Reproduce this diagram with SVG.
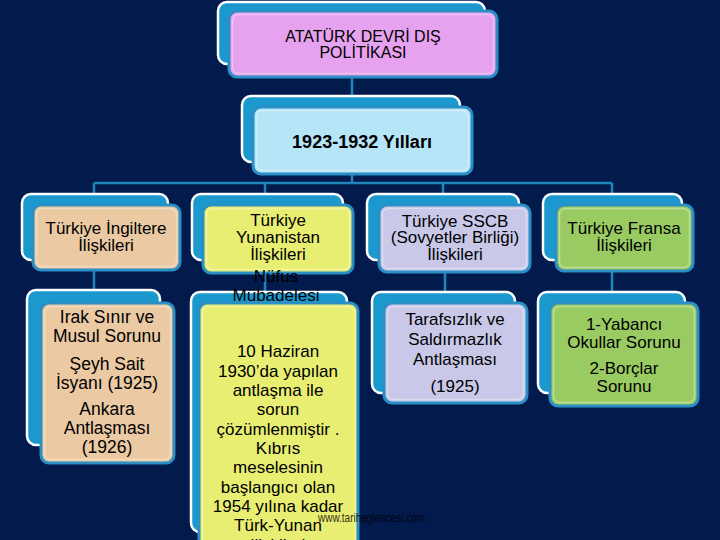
<svg xmlns="http://www.w3.org/2000/svg" width="720" height="540" viewBox="0 0 720 540">
<style>
.back{fill:#1b98cd;stroke:#ffffff;stroke-width:2.5}
.front{stroke:#2a8fc4;stroke-width:3}
.hl{fill:none;stroke:#ffffff;stroke-opacity:0.35;stroke-width:1.5}
.conn{stroke:#1f86bd;stroke-width:2.5;fill:none}
text{font-family:"Liberation Sans",Arial,sans-serif;fill:#000;text-anchor:middle}
.t16{font-size:16px}
.t17{font-size:17px}
.t18{font-size:17.5px}
</style>
<rect width="720" height="540" fill="#021a4c"/>
<g id="connectors">
<path class="conn" d="M352 70V100M352 168V183M94 183H612M94 183V198M265 183V198M443 183V198M612 183V198M94 265V294M265 265V296M445 265V296M612 265V296"/>
</g>
<g id="n-top">
<rect class="back" x="218" y="2" width="267" height="62" rx="9"/>
<rect class="front" x="229" y="11" width="268" height="66" rx="8" fill="#e6a2ee"/>
<rect class="hl" x="232.5" y="14.5" width="261" height="59" rx="6"/>
<text class="t16" fill="#161636" x="363" y="42">ATATÜRK DEVRİ DIŞ</text>
<text class="t16" fill="#161636" x="363" y="58">POLİTİKASI</text>
</g>
<g id="n-years">
<rect class="back" x="242" y="96" width="218" height="66" rx="9"/>
<rect class="front" x="253" y="107" width="219" height="67" rx="8" fill="#b6e5f8"/>
<rect class="hl" x="256.5" y="110.5" width="212" height="60" rx="6"/>
<text x="362" y="148" style="font-size:18px;font-weight:bold" fill="#0c1430">1923-1932 Yılları</text>
</g>
<g id="n-ingiltere">
<rect class="back" x="22" y="194" width="146" height="66" rx="9"/>
<rect class="front" x="33" y="205" width="147" height="65" rx="8" fill="#ebc9a3"/>
<rect class="hl" x="36.5" y="208.5" width="140" height="58" rx="6"/>
<text class="t17" x="106" y="234">Türkiye İngiltere</text>
<text class="t17" x="106" y="251">İlişkileri</text>
</g>
<g id="n-yunanistan">
<rect class="back" x="192" y="194" width="151" height="66" rx="9"/>
<rect class="front" x="203" y="205" width="150" height="68" rx="8" fill="#e8ee72"/>
<rect class="hl" x="206.5" y="208.5" width="143" height="61" rx="6"/>
<text class="t17" x="278" y="226">Türkiye</text>
<text class="t17" x="278" y="243">Yunanistan</text>
<text class="t17" x="278" y="260">İlişkileri</text>
</g>
<g id="n-sscb">
<rect class="back" x="367" y="194" width="152" height="66" rx="9"/>
<rect class="front" x="379" y="205" width="151" height="67" rx="8" fill="#c9c8e9"/>
<rect class="hl" x="382.5" y="208.5" width="144" height="60" rx="6"/>
<text class="t17" x="455" y="227">Türkiye SSCB</text>
<text class="t17" x="455" y="243">(Sovyetler Birliği)</text>
<text class="t17" x="455" y="260">İlişkileri</text>
</g>
<g id="n-fransa">
<rect class="back" x="543" y="194" width="139" height="66" rx="9"/>
<rect class="front" x="556" y="205" width="137" height="66" rx="8" fill="#9acb62"/>
<rect class="hl" x="559.5" y="208.5" width="130" height="59" rx="6"/>
<text class="t17" x="624" y="234">Türkiye Fransa</text>
<text class="t17" x="624" y="251">İlişkileri</text>
</g>
<g id="n-irak">
<rect class="back" x="27" y="290" width="133" height="155" rx="9"/>
<rect class="front" x="41" y="303" width="133" height="160" rx="8" fill="#ebc9a3"/>
<rect class="hl" x="44.5" y="306.5" width="126" height="153" rx="6"/>
<text class="t18" x="107" y="323">Irak Sınır ve</text>
<text class="t18" x="107" y="342">Musul Sorunu</text>
<text class="t18" x="107" y="370">Şeyh Sait</text>
<text class="t18" x="107" y="389">İsyanı (1925)</text>
<text class="t18" x="107" y="415">Ankara</text>
<text class="t18" x="107" y="434">Antlaşması</text>
<text class="t18" x="107" y="453">(1926)</text>
</g>
<g id="n-nufus">
<rect class="back" x="191" y="292" width="156" height="240" rx="9"/>
<rect class="front" x="199" y="303" width="159" height="260" rx="8" fill="#e8ee72"/>
<rect class="hl" x="202.5" y="306.5" width="152" height="253" rx="6"/>
<text class="t17" x="276" y="282">Nüfus</text>
<text class="t17" x="276" y="301">Mübadelesi</text>
<text class="t17" x="278" y="357">10 Haziran</text>
<text class="t17" x="278" y="376.5">1930’da yapılan</text>
<text class="t17" x="278" y="396">antlaşma ile</text>
<text class="t17" x="278" y="415">sorun</text>
<text class="t17" x="278" y="434.5">çözümlenmiştir .</text>
<text class="t17" x="278" y="454">Kıbrıs</text>
<text class="t17" x="278" y="473">meselesinin</text>
<text class="t17" x="278" y="492.5">başlangıcı olan</text>
<text class="t17" x="278" y="512">1954 yılına kadar</text>
<text class="t17" x="278" y="531">Türk-Yunan</text>
<text class="t17" x="278" y="550.5">ilişkileri</text>
</g>
<g id="n-tarafsizlik">
<rect class="back" x="372" y="292" width="143" height="101" rx="9"/>
<rect class="front" x="384" y="303" width="143" height="100" rx="8" fill="#c9c8e9"/>
<rect class="hl" x="387.5" y="306.5" width="136" height="93" rx="6"/>
<text class="t17" x="455" y="325">Tarafsızlık ve</text>
<text class="t17" x="455" y="345">Saldırmazlık</text>
<text class="t17" x="455" y="365">Antlaşması</text>
<text class="t17" x="455" y="392">(1925)</text>
</g>
<g id="n-borclar">
<rect class="back" x="538" y="292" width="147" height="101" rx="9"/>
<rect class="front" x="550" y="303" width="148" height="103" rx="8" fill="#9acb62"/>
<rect class="hl" x="553.5" y="306.5" width="141" height="96" rx="6"/>
<text class="t17" x="624" y="330">1-Yabancı</text>
<text class="t17" x="624" y="348">Okullar Sorunu</text>
<text class="t17" x="624" y="374">2-Borçlar</text>
<text class="t17" x="624" y="392">Sorunu</text>
</g>
<text x="318" y="522" style="font-size:12px;text-anchor:start" fill="#ffffff" fill-opacity="0.85" textLength="107" lengthAdjust="spacingAndGlyphs">www.tarihe&#103;lencesi.com</text>
</svg>
